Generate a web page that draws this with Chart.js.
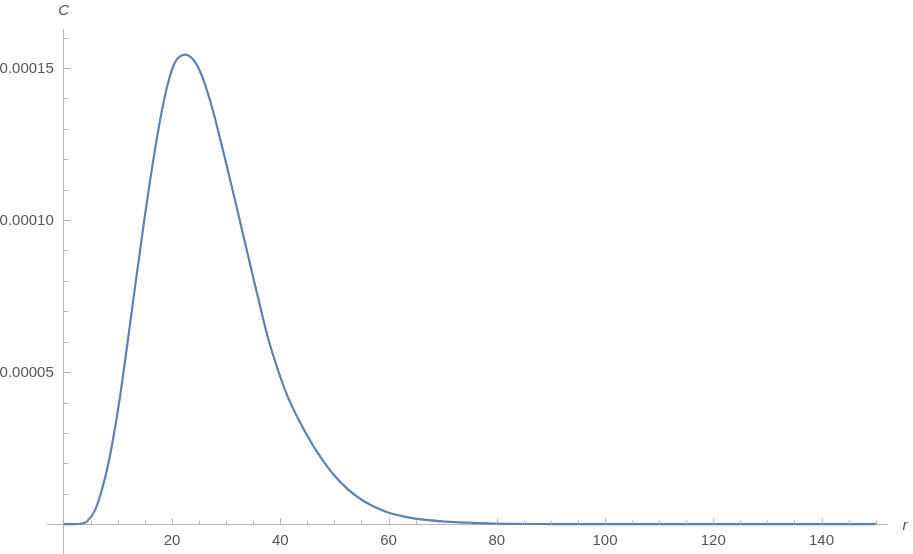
<!DOCTYPE html>
<html lang="en">
<head>
  <meta charset="UTF-8">
  <title>C(r)</title>
  <script src="https://cdn.jsdelivr.net/npm/chart.js"></script>
  <style>
    body { margin: 0; background: #fff; }
    #chart-container { width: 913px; height: 554px; }
  </style>
</head>
<body>
  <div id="chart-container">
    <canvas id="curveChart"></canvas>
  </div>

  <script>
    // points
    const rValues = [0, 2, 3.2, 4.27, 5.8, 7.04, 8.26, 9.5, 10.4, 11.35, 12.27, 13.2, 14.12, 15.05,
      15.97, 17.0, 18.1, 19.35, 20.6, 22.44, 24.4, 25.9, 27.6, 29.15, 30.7, 32.2, 33.7, 35.1,
      36.5, 37.8, 39.4, 41.2, 43.4, 45.9, 47.7, 49.8, 52.4, 55.3, 59.5, 64.4, 70.6, 80, 90, 100, 120, 150];
    const cValues = [0, 0, 0.15e-6, 0.9e-6, 4.7e-6, 11.3e-6, 20.1e-6, 32.0e-6, 42.0e-6, 54.0e-6, 66.1e-6,
      78.4e-6, 90.3e-6, 102.2e-6, 113.3e-6, 124.8e-6, 135.7e-6, 145.6e-6, 152.0e-6, 154.4e-6,
      151.6e-6, 145.6e-6, 135.7e-6, 124.8e-6, 113.5e-6, 102.3e-6, 91.0e-6, 80.4e-6, 69.9e-6,
      60.8e-6, 51.6e-6, 42.7e-6, 34.3e-6, 26.3e-6, 21.4e-6, 16.4e-6, 11.6e-6, 7.7e-6, 4.1e-6,
      2.0e-6, 0.85e-6, 0.2e-6, 0.05e-6, 0, 0, 0];
    const xMajorTicks = [20, 40, 60, 80, 100, 120, 140];
    const yMajorTicks = [0.00005, 0.0001, 0.00015];

    const axisColor = '#b4b4b4';
    const textColor = '#555555';
    const fontFamily = '"Liberation Sans", Arial, sans-serif';

    const isMajor = (list, v) => list.some(t => Math.abs(t - v) < 1e-9);
    const yLabel = v => isMajor(yMajorTicks, v) ? v.toFixed(5) : '';

    // Mathematica style tick marks (inside the frame), y labels and the axis names
    const axesDecor = {
      id: 'axesDecor',
      afterDraw(chart) {
        const { ctx, chartArea } = chart;
        const xs = chart.scales.x, ys = chart.scales.y;
        const x0 = xs.getPixelForValue(0), y0 = ys.getPixelForValue(0);
        ctx.save();
        ctx.strokeStyle = axisColor;
        ctx.lineWidth = 1;
        ctx.beginPath();
        xs.ticks.forEach(t => {
          if (Math.abs(t.value) < 1e-9) return;
          const px = Math.round(xs.getPixelForValue(t.value)) + 0.5;
          const len = isMajor(xMajorTicks, t.value) ? 6 : 3.5;
          ctx.moveTo(px, y0);
          ctx.lineTo(px, y0 - len);
        });
        ys.ticks.forEach(t => {
          if (Math.abs(t.value) < 1e-12) return;
          const py = Math.round(ys.getPixelForValue(t.value)) + 0.5;
          const len = isMajor(yMajorTicks, t.value) ? 6.5 : 4;
          ctx.moveTo(x0, py);
          ctx.lineTo(x0 + len, py);
        });
        ctx.stroke();

        ctx.fillStyle = textColor;
        ctx.font = '15px ' + fontFamily;
        ctx.textAlign = 'right';
        ctx.textBaseline = 'middle';
        ys.ticks.forEach(t => {
          const label = yLabel(t.value);
          if (label) ctx.fillText(label, x0 - 10, ys.getPixelForValue(t.value) + 1);
        });

        ctx.font = 'italic 15px ' + fontFamily;
        ctx.textAlign = 'center';
        ctx.fillText('C', x0, chartArea.top - 18);
        ctx.fillText('r', chartArea.right + 18, y0 + 2);
        ctx.restore();
      }
    };

    const ctx = document.getElementById('curveChart').getContext('2d');
    new Chart(ctx, {
      type: 'line',
      data: {
        datasets: [{
          data: rValues.map((r, i) => ({ x: r, y: cValues[i] })),
          borderColor: '#5e81b5',
          borderWidth: 2.2,
          pointRadius: 0,
          fill: false,
          cubicInterpolationMode: 'monotone'
        }]
      },
      options: {
        responsive: true,
        maintainAspectRatio: false,
        animation: false,
        layout: { padding: { left: 47, right: 26, top: 29, bottom: 0 } },
        plugins: { legend: { display: false }, tooltip: { enabled: false } },
        scales: {
          x: {
            type: 'linear',
            min: -3.1,
            max: 152.1,
            position: { y: 0 },
            afterFit: s => { s.height = 0; s.paddingLeft = 0; s.paddingRight = 0; },
            border: { display: true, color: axisColor, width: 1 },
            grid: { display: true, drawOnChartArea: false, drawTicks: false },
            ticks: {
              stepSize: 5,
              includeBounds: false,
              autoSkip: false,
              maxRotation: 0,
              padding: 8,
              color: textColor,
              font: { family: fontFamily, size: 15 },
              callback: v => isMajor(xMajorTicks, v) ? String(v) : ''
            }
          },
          y: {
            type: 'linear',
            min: -0.0000098,
            max: 0.0001628,
            position: { x: 0 },
            afterFit: s => { s.width = 0; s.paddingTop = 0; s.paddingBottom = 0; },
            border: { display: true, color: axisColor, width: 1 },
            grid: { display: true, drawOnChartArea: false, drawTicks: false },
            ticks: {
              display: false,
              stepSize: 0.00001,
              includeBounds: false,
              autoSkip: false,
              callback: yLabel
            }
          }
        }
      },
      plugins: [axesDecor]
    });
  </script>
</body>
</html>
